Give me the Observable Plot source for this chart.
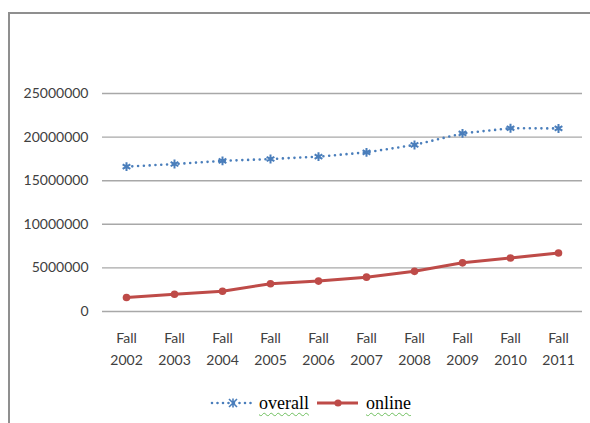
<!DOCTYPE html>
<html>
<head>
<meta charset="utf-8">
<script src="https://cdn.jsdelivr.net/npm/d3@7"></script>
<script src="https://cdn.jsdelivr.net/npm/@observablehq/plot@0.6"></script>
<style>
  html, body { margin: 0; padding: 0; background: #fff; width: 590px; height: 423px; overflow: hidden; }
  #frame { position: absolute; left: 8px; top: 12px; width: 600px; height: 430px;
           border-left: 2px solid #8f8f8f; border-top: 2px solid #8f8f8f; box-sizing: border-box; }
  #chart { position: absolute; left: 0; top: 0; }
  #legend { position: absolute; left: 0; top: 388px; width: 590px; height: 30px;
            font-family: "Liberation Serif", "Times New Roman", serif; font-size: 18px; color: #000; }
  .item { position: absolute; top: 0; display: flex; align-items: center; height: 30px; }
  .lbl { text-decoration: underline wavy #6fbf5f; text-decoration-thickness: 1px; text-underline-offset: 3px; }
</style>
</head>
<body>
<div id="frame"></div>
<div id="chart"></div>
<div id="legend">
  <div class="item" style="left:210px">
    <svg width="44" height="30"><line x1="2" y1="15" x2="42" y2="15" stroke="#4a7ebb" stroke-width="2.6" stroke-dasharray="0 5.5" stroke-linecap="round"/><path d="M19,11L27,19M27,11L19,19M23,10.5L23,19.5" stroke="#4a7ebb" stroke-width="1.6"/></svg>
    <span class="lbl" style="margin-left:5px">overall</span>
  </div>
  <div class="item" style="left:316px">
    <svg width="44" height="30"><line x1="1" y1="15" x2="42" y2="15" stroke="#be4b48" stroke-width="3"/><circle cx="22" cy="15" r="3.6" fill="#be4b48"/></svg>
    <span class="lbl" style="margin-left:6px">online</span>
  </div>
</div>
<script>
const years = ["2002","2003","2004","2005","2006","2007","2008","2009","2010","2011"];
const overall = [16611710, 16911481, 17272043, 17487481, 17758872, 18248133, 19102811, 20427711, 21016126, 20994113];
const online = [1602970, 1971397, 2329783, 3180050, 3488381, 3938111, 4606353, 5579022, 6142280, 6714792];
const yTicks = [0, 5000000, 10000000, 15000000, 20000000, 25000000];

const overallData = years.map((y, i) => ({year: y, value: overall[i]}));
const onlineData = years.map((y, i) => ({year: y, value: online[i]}));

const blue = "#4a7ebb", red = "#be4b48";

const chart = Plot.plot({
  width: 590,
  height: 380,
  marginLeft: 102,
  marginRight: 8,
  marginTop: 93,
  marginBottom: 69,
  style: {fontFamily: "Lato, 'Open Sans', sans-serif", fontSize: "14px", color: "#404040", background: "transparent"},
  x: {type: "band", domain: years, padding: 0, label: null},
  y: {domain: [0, 25000000], label: null},
  marks: [
    Plot.ruleY(yTicks, {stroke: "#a8a8a8", strokeWidth: 1.4}),
    Plot.axisY({ticks: yTicks, tickFormat: d => String(d), tickSize: 0, tickPadding: 14, fontSize: 14, fill: "#404040", label: null}),
    Plot.axisX({tickFormat: d => `Fall\n${d}`, tickSize: 0, tickPadding: 15, lineHeight: 1.62, fontSize: 14, fill: "#404040", label: null}),
    Plot.line(overallData, {x: "year", y: "value", stroke: blue, strokeWidth: 2.6, strokeDasharray: "0 5.8", strokeLinecap: "round"}),
    Plot.dot(overallData, {x: "year", y: "value", symbol: "asterisk", r: 4.2, stroke: blue, strokeWidth: 2}),
    Plot.line(onlineData, {x: "year", y: "value", stroke: red, strokeWidth: 3}),
    Plot.dot(onlineData, {x: "year", y: "value", r: 3.8, fill: red, stroke: "none"})
  ]
});
document.getElementById("chart").appendChild(chart);
</script>
</body>
</html>
